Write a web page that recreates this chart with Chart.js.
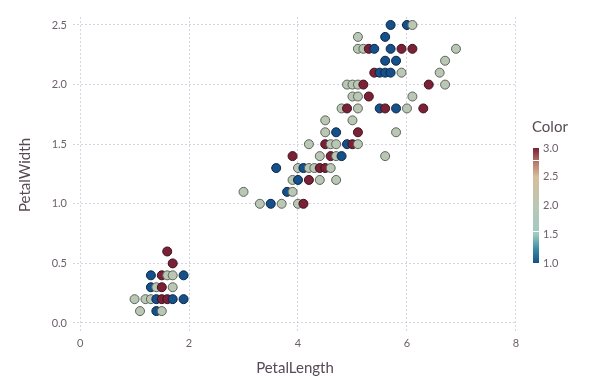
<!DOCTYPE html>
<html>
<head>
<meta charset="utf-8">
<script src="https://cdn.jsdelivr.net/npm/chart.js@4"></script>
<style>
  html, body { margin: 0; padding: 0; background: #fff; }
  #wrap { width: 591px; height: 387px; position: relative; }
</style>
</head>
<body>
<div id="wrap"><canvas id="chart" width="591" height="387"></canvas></div>
<script>
'use strict';
// ---------- data (one entry per visible marker) ----------
const petalLength = [
    1.0, 1.1, 1.2, 1.3, 1.4, 1.5, 1.6, 1.7, 1.9, 1.4, 1.5,
    1.3, 1.4, 1.5, 1.7, 1.3, 1.5, 1.6, 1.7, 1.9, 1.7, 1.6,
    3.0, 3.3, 3.5, 3.7, 4.0, 4.1, 3.8, 3.9,
    3.9, 4.0, 4.2, 4.4, 4.7,
    3.6, 4.0, 4.1, 4.2, 4.3, 4.4, 4.5, 4.6,
    3.9, 4.4, 4.6, 4.7, 4.8, 5.6,
    4.2, 4.5, 4.6, 4.7, 4.9, 5.0, 5.1,
    4.5, 4.7, 5.1, 5.8, 4.5, 5.0,
    4.8, 4.9, 5.1, 5.5, 5.6, 5.8, 6.0, 6.3,
    5.0, 5.1, 5.3, 6.1,
    4.9, 5.0, 5.1, 5.2, 6.4, 6.7,
    5.4, 5.5, 5.6, 5.7, 5.9, 6.6,
    5.6, 5.8, 6.7,
    5.1, 5.2, 5.3, 5.4, 5.7, 5.9, 6.1, 6.9,
    5.1, 5.6,
    5.7, 6.0, 6.1,
];
const petalWidth = [
    0.2, 0.1, 0.2, 0.2, 0.2, 0.2, 0.2, 0.2, 0.2, 0.1, 0.1,
    0.3, 0.3, 0.3, 0.3, 0.4, 0.4, 0.4, 0.4, 0.4, 0.5, 0.6,
    1.1, 1.0, 1.0, 1.0, 1.0, 1.0, 1.1, 1.1,
    1.2, 1.2, 1.2, 1.2, 1.2,
    1.3, 1.3, 1.3, 1.3, 1.3, 1.3, 1.3, 1.3,
    1.4, 1.4, 1.4, 1.4, 1.4, 1.4,
    1.5, 1.5, 1.5, 1.5, 1.5, 1.5, 1.5,
    1.6, 1.6, 1.6, 1.6, 1.7, 1.7,
    1.8, 1.8, 1.8, 1.8, 1.8, 1.8, 1.8, 1.8,
    1.9, 1.9, 1.9, 1.9,
    2.0, 2.0, 2.0, 2.0, 2.0, 2.0,
    2.1, 2.1, 2.1, 2.1, 2.1, 2.1,
    2.2, 2.2, 2.2,
    2.3, 2.3, 2.3, 2.3, 2.3, 2.3, 2.3, 2.3,
    2.4, 2.4,
    2.5, 2.5, 2.5,
];
const colorValue = [
    2, 2, 2, 2, 1, 3, 3, 1, 1, 1, 2,
    1, 2, 3, 2, 1, 3, 2, 2, 1, 3, 3,
    2, 2, 1, 2, 2, 3, 1, 2,
    2, 1, 3, 2, 2,
    1, 2, 1, 2, 2, 3, 3, 2,
    3, 2, 3, 2, 1, 2,
    2, 3, 2, 2, 1, 3, 2,
    2, 1, 3, 2, 2, 2,
    2, 3, 2, 1, 3, 1, 2, 3,
    2, 2, 3, 2,
    2, 2, 2, 3, 3, 2,
    3, 1, 1, 1, 2, 2,
    1, 1, 2,
    2, 2, 3, 1, 1, 3, 3, 2,
    2, 1,
    1, 1, 2,
];
const xTicks = [0, 2, 4, 6, 8];
const yTicks = [0, 0.5, 1.0, 1.5, 2.0, 2.5];
const legendTicks = [1.0, 1.5, 2.0, 2.5, 3.0];

// ---------- colour scale ----------
const colorStops = [
    [1.00, [21, 80, 138]],
    [1.25, [61, 143, 162]],
    [1.50, [159, 203, 193]],
    [2.00, [186, 199, 181]],
    [2.50, [216, 189, 156]],
    [2.75, [183, 120, 106]],
    [3.00, [123, 33, 55]],
];

function colorAt(v, k = 1) {
    let i = 0;
    while (i < colorStops.length - 2 && v > colorStops[i + 1][0]) i++;
    const [v0, c0] = colorStops[i];
    const [v1, c1] = colorStops[i + 1];
    const t = Math.max(0, Math.min(1, (v - v0) / (v1 - v0)));
    const c = c0.map((a, j) => Math.round((a + (c1[j] - a) * t) * k));
    return `rgb(${c[0]},${c[1]},${c[2]})`;
}

const points = petalLength.map((x, i) => ({ x, y: petalWidth[i] }));
const fills   = colorValue.map(v => colorAt(v));
const strokes = colorValue.map(v => colorAt(v, 0.5));

const TICK_FONT  = { family: 'Lato, "Noto Sans", sans-serif', size: 11 };
const TITLE_FONT = { family: 'Lato, "Noto Sans", sans-serif', size: 15 };
const GRID = '#d6d4e2';

// Colour key on the right (continuous bar)
const colorKey = {
    id: 'colorKey',
    afterDraw(chart) {
        const ctx = chart.ctx;
        const x0 = 533, w = 6, top = 148, bottom = 263;
        const span = bottom - top;
        ctx.save();
        const g = ctx.createLinearGradient(0, bottom, 0, top);
        colorStops.forEach(([v]) => g.addColorStop((v - 1) / 2, colorAt(v)));
        ctx.fillStyle = g;
        ctx.fillRect(x0, top, w, span);
        // thin white seams as in the reference bar
        ctx.fillStyle = '#fff';
        ctx.fillRect(x0, 160, w, 1);
        ctx.fillRect(x0, 231, w, 1);

        ctx.fillStyle = '#564a55';
        ctx.font = `15px ${TITLE_FONT.family}`;
        ctx.textBaseline = 'middle';
        ctx.textAlign = 'left';
        ctx.fillText('Color', 532, 127);

        ctx.fillStyle = '#6c606b';
        ctx.font = `11px ${TICK_FONT.family}`;
        legendTicks.forEach(v => {
            const y = bottom - (v - 1) / 2 * span;
            ctx.fillText(v.toFixed(1), 543, y);
        });
        ctx.restore();
    },
};

new Chart(document.getElementById('chart'), {
    type: 'scatter',
    data: {
        datasets: [{
            data: points,
            pointRadius: 4.5,
            pointHoverRadius: 4.5,
            pointBorderWidth: 1,
            pointBackgroundColor: fills,
            pointBorderColor: strokes,
        }],
    },
    options: {
        responsive: false,
        animation: false,
        events: [],
        layout: { padding: { left: 0, right: 74, top: 17, bottom: 0 } },
        plugins: { legend: { display: false }, tooltip: { enabled: false } },
        scales: {
            x: {
                type: 'linear',
                min: -0.13,
                max: 8.02,
                afterBuildTicks: s => { s.ticks = xTicks.map(v => ({ value: v })); },
                afterFit: s => { s.height = 54; },
                grid: { color: GRID, lineWidth: 1, drawTicks: false },
                border: { display: false, dash: [2, 2] },
                ticks: { color: '#6c606b', font: TICK_FONT, padding: 4, maxRotation: 0,
                         callback: v => String(v) },
                title: { display: true, text: 'PetalLength', color: '#564a55', font: TITLE_FONT,
                         padding: { top: 0, bottom: 10 } },
            },
            y: {
                type: 'linear',
                min: -0.0839,
                max: 2.567,
                afterBuildTicks: s => { s.ticks = yTicks.map(v => ({ value: v })); },
                afterFit: s => { s.width = 73; },
                grid: { color: GRID, lineWidth: 1, drawTicks: false },
                border: { display: false, dash: [2, 2] },
                ticks: { color: '#6c606b', font: TICK_FONT, padding: 6,
                         callback: v => v.toFixed(1) },
                title: { display: true, text: 'PetalWidth', color: '#564a55', font: TITLE_FONT,
                         padding: { top: 16, bottom: 0 } },
            },
        },
    },
    plugins: [colorKey],
});
</script>
</body>
</html>
